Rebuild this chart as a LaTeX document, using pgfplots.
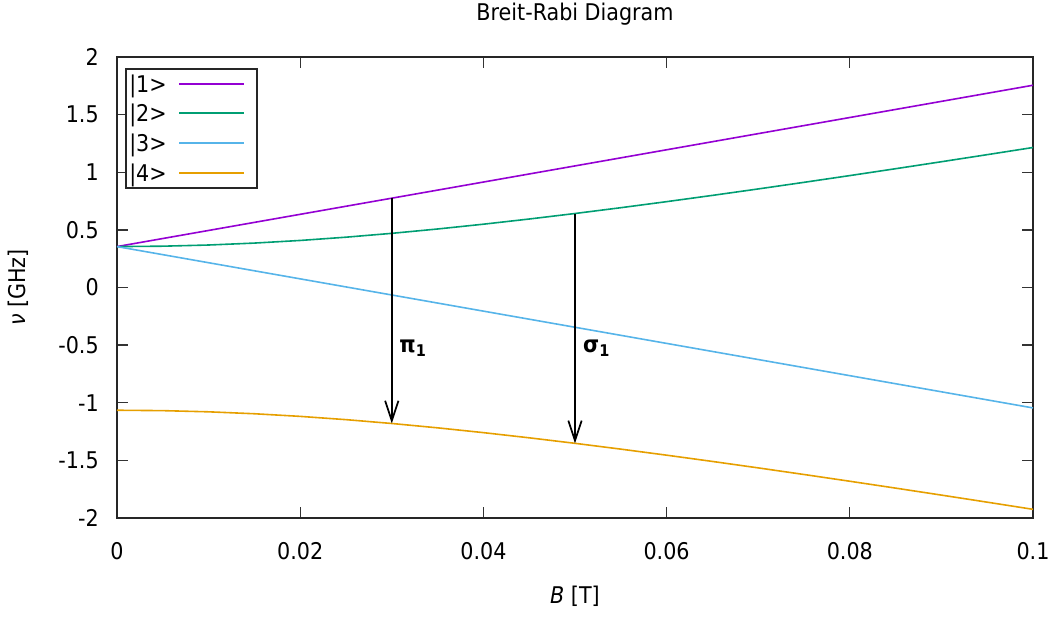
\documentclass[border=0pt]{standalone}
\usepackage{fontspec}
\setmainfont{DejaVu Sans Condensed}
\usepackage{pgfplots}
\pgfplotsset{compat=1.18}
\usetikzlibrary{arrows.meta}
\definecolor{c1}{HTML}{9400D3}
\definecolor{c2}{HTML}{009E73}
\definecolor{c3}{HTML}{56B4E9}
\definecolor{c4}{HTML}{E69F00}
\pgfplotstableread{
B E2 E4
0 0.355 -1.065
0.005 0.35844 -1.06844
0.010 0.36867 -1.07867
0.015 0.38541 -1.09541
0.020 0.40822 -1.11822
0.025 0.43658 -1.14658
0.030 0.46992 -1.17992
0.035 0.50767 -1.21767
0.040 0.54927 -1.25927
0.045 0.59421 -1.30421
0.050 0.64204 -1.35204
0.055 0.69238 -1.40238
0.060 0.74486 -1.45486
0.065 0.79921 -1.50921
0.070 0.85517 -1.56517
0.075 0.91252 -1.62252
0.080 0.97108 -1.68108
0.085 1.03071 -1.74071
0.090 1.09127 -1.80127
0.095 1.15265 -1.86265
0.100 1.21475 -1.92475
}\curves
\begin{document}
\fontsize{17.25}{20.7}\selectfont
\begin{tikzpicture}
\begin{axis}[
  scale only axis,
  width=687pt, height=345.75pt,
  xmin=0, xmax=0.1, ymin=-2, ymax=2,
  xtick={0,0.02,0.04,0.06,0.08,0.1},
  xticklabels={0,0.02,0.04,0.06,0.08,0.1},
  ytick={-2,-1.5,-1,-0.5,0,0.5,1,1.5,2},
  yticklabels={-2,-1.5,-1,-0.5,0,0.5,1,1.5,2},
  scaled x ticks=false, scaled y ticks=false,
  tick align=inside,
  major tick length=8pt,
  tick style={black!80, line width=1pt},
  axis line style={black!85, line width=1.1pt},
  xticklabel style={anchor=north, inner sep=0pt, yshift=-17.8pt},
  yticklabel style={anchor=east, inner sep=0pt, xshift=-13.5pt},
  xlabel={\textit{B} [T]},
  xlabel style={at={(axis description cs:0.5,-0.1844)}, anchor=base, inner sep=0pt},
  ylabel={\textit{ν} [GHz]},
  ylabel style={at={(axis description cs:-0.1004,0.5)}, anchor=base, inner sep=0pt, rotate=0},
]
\addplot[c1, line width=1.2pt] coordinates {(0,0.355) (0.1,1.755)};
\addplot[c2, line width=1.2pt] table[x=B, y=E2] {\curves};
\addplot[c3, line width=1.2pt] coordinates {(0,0.355) (0.1,-1.045)};
\addplot[c4, line width=1.2pt] table[x=B, y=E4] {\curves};
\addplot[black, line width=1.3pt, -{Straight Barb[length=15pt,width=10pt,line width=1.3pt]}] coordinates {(0.03,0.775) (0.03,-1.17992)};
\addplot[black, line width=1.3pt, -{Straight Barb[length=15pt,width=10pt,line width=1.3pt]}] coordinates {(0.05,0.64204) (0.05,-1.35204)};
\node[anchor=base west, inner sep=0pt] at (axis cs:0.0308,-0.568) {\textbf{π\textsubscript{1}}};
\node[anchor=base west, inner sep=0pt] at (axis cs:0.05087,-0.568) {\textbf{σ\textsubscript{1}}};
\coordinate (T) at (axis description cs:0.5,1.0781);
\end{axis}
\node[anchor=base, inner sep=0pt] at (T) {Breit-Rabi Diagram};
% legend
\begin{scope}[shift={(current axis.south west)}]
\draw[black!85, line width=1pt, fill=white] (6.75pt,247.5pt) rectangle (105pt,336.75pt);
\foreach \y/\c/\t in {325.5/c1/1, 303.75/c2/2, 281.25/c3/3, 258.75/c4/4}{
  \node[anchor=base west, inner sep=0pt] at (9pt,\y pt-6.3pt) {|\t>};
  \draw[\c, line width=1.2pt] (46.5pt,\y pt) -- (95.25pt,\y pt);
}
\end{scope}
\pgfresetboundingbox
\path[use as bounding box] ([shift={(-87.75pt,-74.25pt)}]current axis.south west) rectangle ([shift={(22.5pt,42.75pt)}]current axis.north east);
\end{tikzpicture}
\end{document}
